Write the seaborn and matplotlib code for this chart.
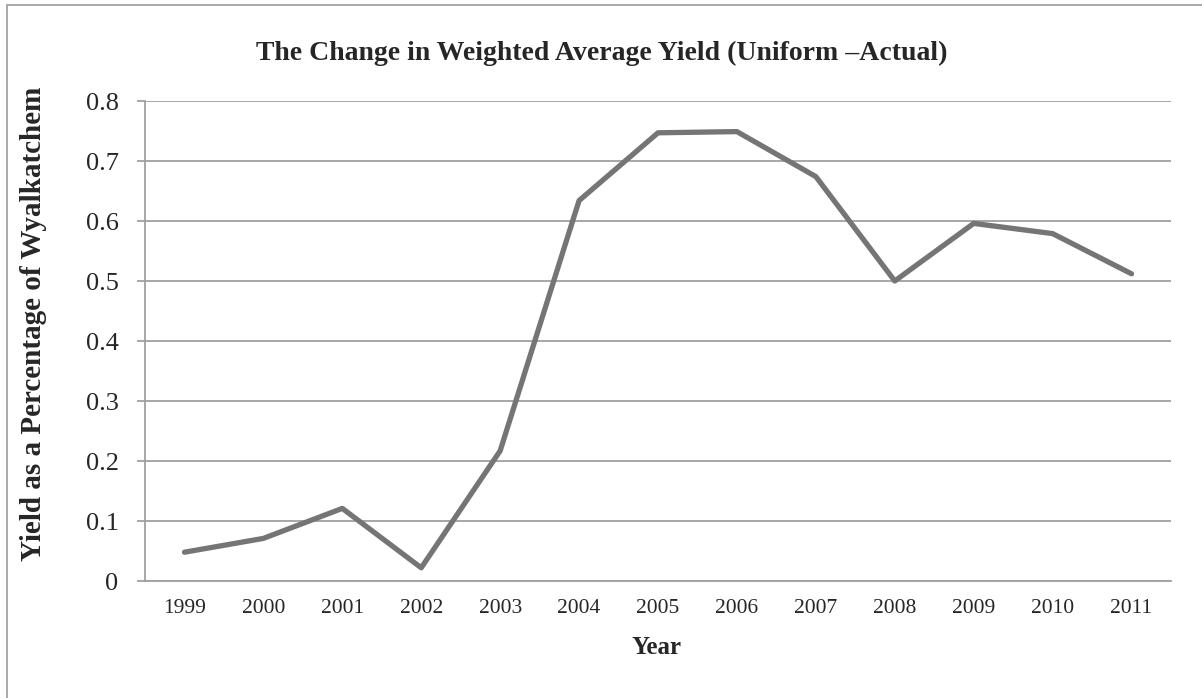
import matplotlib
matplotlib.use("Agg")
import matplotlib.pyplot as plt
import seaborn as sns
import pandas as pd
from matplotlib.patches import Rectangle

sns.set_style("white")
plt.rcParams["font.family"] = ["Liberation Serif", "DejaVu Serif"]

years = ["1999", "2000", "2001", "2002", "2003", "2004", "2005",
         "2006", "2007", "2008", "2009", "2010", "2011"]
yield_change = [0.048, 0.071, 0.121, 0.022, 0.217, 0.634, 0.747,
                0.749, 0.674, 0.500, 0.596, 0.579, 0.512]
y_ticks = [0, 0.1, 0.2, 0.3, 0.4, 0.5, 0.6, 0.7, 0.8]
y_tick_labels = ["0", "0.1", "0.2", "0.3", "0.4", "0.5", "0.6", "0.7", "0.8"]

data = pd.DataFrame({"Year": years, "Yield": yield_change})

W, H = 1202, 698
fig = plt.figure(figsize=(W / 100, H / 100), dpi=100)
ax = fig.add_axes([145 / W, 1 - 581 / H, (1171 - 145) / W, (581 - 101) / H])

# outer chart frame (only top/left visible in the reference)
fig.patches.append(Rectangle((7 / W, -0.1), 1.2, 1 - 5 / H + 0.1,
                             transform=fig.transFigure, fill=False,
                             edgecolor="#9a9a9a", linewidth=1.2))

sns.lineplot(data=data, x="Year", y="Yield", ax=ax, color="#757575",
             linewidth=3.8, sort=False)

ax.set_xlim(-0.5, len(years) - 0.5)
ax.set_ylim(0, 0.8)
ax.set_yticks(y_ticks)
ax.set_yticklabels(y_tick_labels)
ax.yaxis.grid(True, color="#a0a0a0", linewidth=1.3)
ax.set_axisbelow(True)

for side in ["top", "right"]:
    ax.spines[side].set_visible(False)
for side in ["left", "bottom"]:
    ax.spines[side].set_color("#a0a0a0")
    ax.spines[side].set_linewidth(1.3)

ax.tick_params(axis="y", direction="out", length=6, width=1.3,
               color="#a0a0a0", labelsize=19, pad=13, left=True)
ax.tick_params(axis="x", length=0, labelsize=15.5, pad=13)

ax.set_xlabel("")
ax.set_ylabel("")
fig.text(602 / W, 1 - 53 / H, "The Change in Weighted Average Yield (Uniform \u2013Actual)",
         ha="center", va="center", fontsize=20, fontweight="bold")
fig.text(657 / W, 1 - 648 / H, "Year", ha="center", va="center",
         fontsize=18, fontweight="bold")
fig.text(34 / W, 1 - 324 / H, "Yield as a Percentage of Wyalkatchem",
         ha="center", va="center", rotation=90, fontsize=21, fontweight="bold")

fig.savefig("out.png", dpi=100)
